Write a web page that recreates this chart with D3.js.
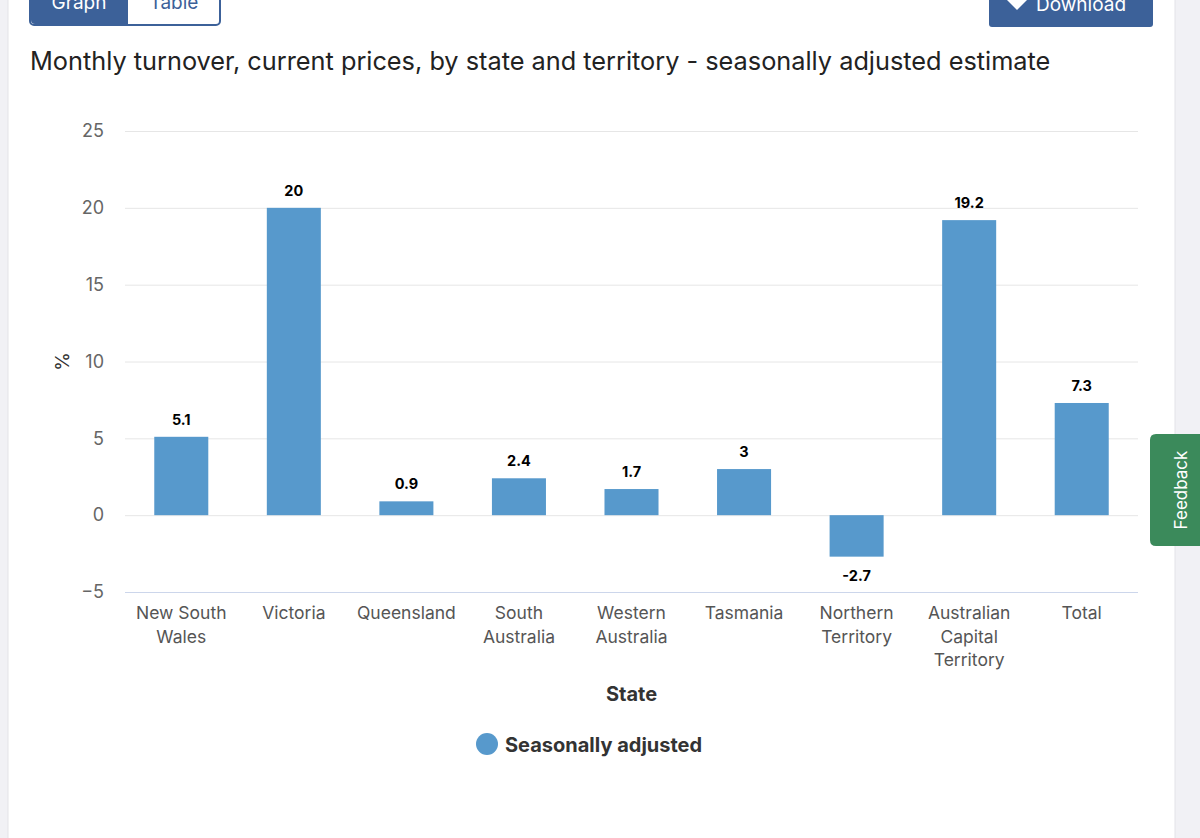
<!DOCTYPE html>
<html>
<head>
<meta charset="utf-8">
<script src="https://cdn.jsdelivr.net/npm/d3@7"></script>
<style>
  html, body { margin: 0; padding: 0; background: #f1f1f5; }
  body { width: 1200px; height: 838px; overflow: hidden; font-family: Inter, "Noto Sans", sans-serif; }
</style>
</head>
<body>
<div id="chart"></div>
<script>
// Categories (two-line labels split with \n)
const states = [
  'New South\nWales', 'Victoria', 'Queensland', 'South\nAustralia', 'Western\nAustralia',
  'Tasmania', 'Northern\nTerritory', 'Australian\nCapital\nTerritory', 'Total'
]
// Seasonally adjusted monthly change, %
const seasonallyAdjusted = [5.1, 20, 0.9, 2.4, 1.7, 3, -2.7, 19.2, 7.3]
// Y axis ticks
const yTicks = [-5, 0, 5, 10, 15, 20, 25]

const W = 1200
const H = 838
const plot = { left: 125, right: 1138, top: 131, bottom: 592 }

const svg = d3.select('#chart').append('svg')
  .attr('width', W)
  .attr('height', H)

// page card
svg.append('rect').attr('x', 8).attr('y', -2).attr('width', 1167).attr('height', H + 4)
  .attr('fill', '#fff').attr('stroke', '#e3e3e8')

// buttons at the top (cut off by the screenshot)
svg.append('rect').attr('x', 30).attr('y', -10).attr('width', 190).attr('height', 35)
  .attr('rx', 4).attr('fill', '#fff').attr('stroke', '#3c6199').attr('stroke-width', 2)
svg.append('path').attr('d', 'M31,-10 H128 V24 H35 Q31,24 31,20 Z').attr('fill', '#3c6199')
svg.append('text').attr('x', 79).attr('y', 9).attr('text-anchor', 'middle')
  .attr('fill', '#fff').style('font-size', '19px').text('Graph')
svg.append('text').attr('x', 174).attr('y', 9).attr('text-anchor', 'middle')
  .attr('fill', '#3c6199').style('font-size', '19px').text('Table')
svg.append('rect').attr('x', 989).attr('y', -10).attr('width', 164).attr('height', 37)
  .attr('rx', 3).attr('fill', '#3c6199')
svg.append('path').attr('d', 'M1007,0 L1017,10 L1027,0 L1027,-6 L1007,-6 Z').attr('fill', '#fff')
svg.append('text').attr('x', 1036).attr('y', 11)
  .attr('fill', '#fff').style('font-size', '19px').text('Download')

// title
svg.append('text').attr('x', 30).attr('y', 70)
  .attr('fill', '#222').style('font-size', '25.3px')
  .text('Monthly turnover, current prices, by state and territory - seasonally adjusted estimate')

const x = d3.scaleBand()
  .domain(states)
  .range([plot.left, plot.right])
  .paddingInner(0.52)
  .paddingOuter(0.26)

const y = d3.scaleLinear()
  .domain([-5, 25])
  .range([plot.bottom, plot.top])

// grid
const yAxis = d3.axisLeft(y)
  .tickValues(yTicks)
  .tickSize(-(plot.right - plot.left))
  .tickPadding(21)

const gy = svg.append('g')
  .attr('transform', 'translate(' + plot.left + ',0)')
  .call(yAxis)
gy.select('.domain').remove()
gy.selectAll('.tick line').attr('stroke', d => d === -5 ? '#ccd6eb' : '#e6e6e6')
gy.selectAll('.tick text').attr('fill', '#666').style('font-size', '18px')
  .style('font-family', 'Inter, sans-serif')

// y title
svg.append('text')
  .attr('transform', 'translate(69,' + y(10) + ') rotate(-90)')
  .attr('text-anchor', 'middle').attr('fill', '#333')
  .style('font-size', '19px').text('%')

// bars
svg.append('g').selectAll('rect')
  .data(seasonallyAdjusted)
  .enter().append('rect')
  .attr('x', (d, i) => x(states[i]))
  .attr('y', d => y(Math.max(0, d)))
  .attr('width', x.bandwidth())
  .attr('height', d => Math.abs(y(d) - y(0)))
  .attr('fill', '#5799cc')

// value labels
svg.append('g').selectAll('text')
  .data(seasonallyAdjusted)
  .enter().append('text')
  .attr('x', (d, i) => x(states[i]) + x.bandwidth() / 2)
  .attr('y', d => d >= 0 ? y(d) - 12 : y(d) + 24)
  .attr('text-anchor', 'middle')
  .attr('fill', '#000')
  .style('font-size', '14.5px').style('font-weight', 'bold')
  .text(d => d)

// x axis labels
const xLabels = svg.append('g').selectAll('text')
  .data(states)
  .enter().append('text')
  .attr('x', d => x(d) + x.bandwidth() / 2)
  .attr('y', 619)
  .attr('text-anchor', 'middle')
  .attr('fill', '#555')
  .style('font-size', '17.5px')
xLabels.selectAll('tspan')
  .data(d => d.split('\n'))
  .enter().append('tspan')
  .attr('x', function () { return d3.select(this.parentNode).attr('x') })
  .attr('dy', (d, i) => i === 0 ? 0 : 23.5)
  .text(d => d)

// x title
svg.append('text').attr('x', (plot.left + plot.right) / 2).attr('y', 701)
  .attr('text-anchor', 'middle').attr('fill', '#333')
  .style('font-size', '20px').style('font-weight', 'bold').text('State')

// legend
svg.append('circle').attr('cx', 487).attr('cy', 744).attr('r', 11).attr('fill', '#5799cc')
svg.append('text').attr('x', 505).attr('y', 752)
  .attr('fill', '#333').style('font-size', '20px').style('font-weight', 'bold')
  .text('Seasonally adjusted')

// feedback tab
svg.append('path').attr('d', 'M1200,434 H1156 Q1150,434 1150,440 V540 Q1150,546 1156,546 H1200 Z')
  .attr('fill', '#3b8a5b')
svg.append('text')
  .attr('transform', 'translate(1187,490) rotate(-90)')
  .attr('text-anchor', 'middle').attr('fill', '#fff')
  .style('font-size', '17px').text('Feedback')
</script>
</body>
</html>
